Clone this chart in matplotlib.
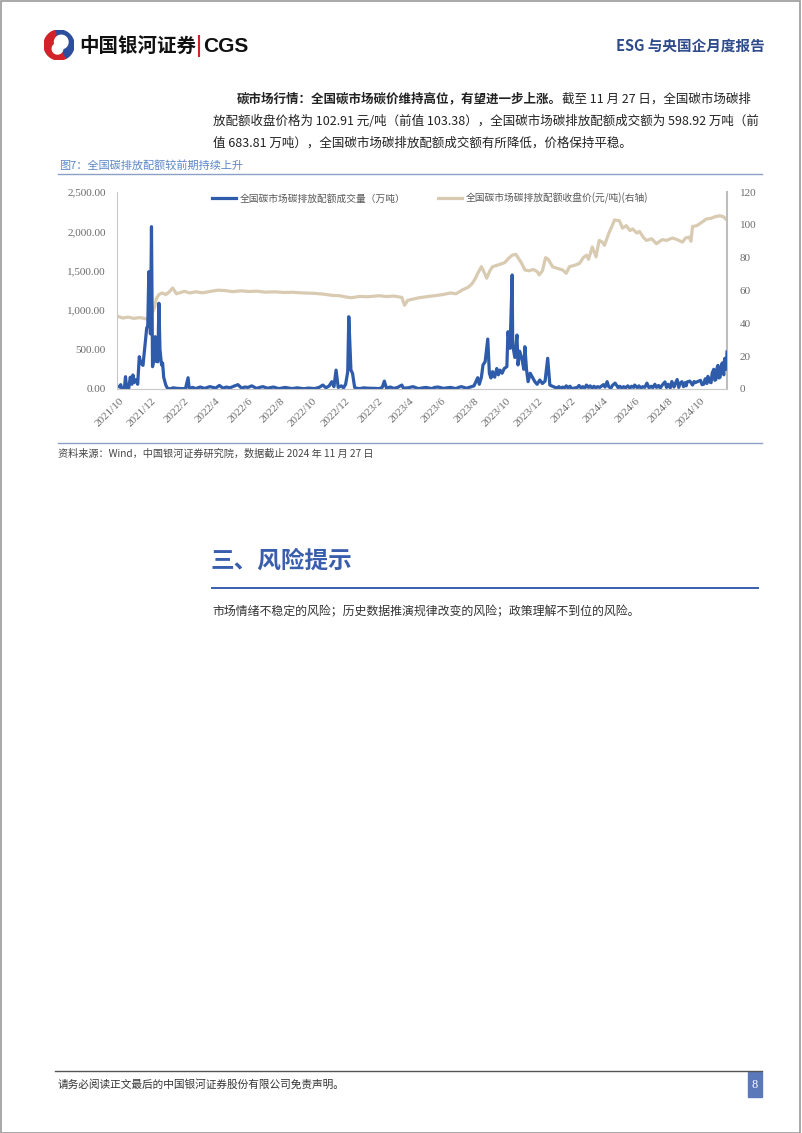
import matplotlib
matplotlib.use('Agg')
import matplotlib.pyplot as plt
import pandas as pd
from matplotlib.lines import Line2D
from matplotlib.patches import Rectangle, Wedge
from matplotlib.ticker import FuncFormatter

plt.rcParams['font.family'] = ['Noto Sans CJK SC', 'DejaVu Sans']

# 全国碳市场碳排放配额成交量（万吨），, by year
vol_2021_dates = [
    '2021-10-08', '2021-10-11', '2021-10-13', '2021-10-18', '2021-10-20', '2021-10-22',
    '2021-10-26', '2021-10-29', '2021-11-01', '2021-11-03', '2021-11-05', '2021-11-09',
    '2021-11-12', '2021-11-15', '2021-11-18', '2021-11-22', '2021-11-25', '2021-11-29',
    '2021-12-01', '2021-12-03', '2021-12-06', '2021-12-08', '2021-12-10', '2021-12-13',
    '2021-12-15', '2021-12-17', '2021-12-20', '2021-12-22', '2021-12-24', '2021-12-27',
    '2021-12-29', '2021-12-31',
]
vol_2021_values = [
    30, 55, 5, 10, 156, 20,
    5, 150, 60, 178, 80, 120,
    60, 410, 330, 300, 500, 774,
    800, 1489, 700, 2060, 283, 400,
    664, 350, 346, 1088, 500, 305,
    330, 150,
]
vol_2022_dates = [
    '2022-01-04', '2022-01-07', '2022-01-12', '2022-01-18', '2022-01-25', '2022-02-10',
    '2022-02-15', '2022-02-17', '2022-02-24', '2022-03-01', '2022-03-10', '2022-03-18',
    '2022-03-28', '2022-04-08', '2022-04-15', '2022-04-22', '2022-04-28', '2022-05-05',
    '2022-05-12', '2022-05-20', '2022-05-27', '2022-06-02', '2022-06-08', '2022-06-15',
    '2022-06-24', '2022-06-30', '2022-07-06', '2022-07-15', '2022-07-26', '2022-08-05',
    '2022-08-17', '2022-08-30', '2022-09-09', '2022-09-21', '2022-09-30', '2022-10-11',
    '2022-10-20', '2022-10-27', '2022-11-02', '2022-11-08', '2022-11-13', '2022-11-17',
    '2022-11-21', '2022-11-25', '2022-12-01', '2022-12-05', '2022-12-09', '2022-12-13',
    '2022-12-15', '2022-12-19', '2022-12-22', '2022-12-26', '2022-12-29',
]
vol_2022_values = [
    50, 10, 2, 15, 8, 3,
    143, 10, 20, 5, 25, 8,
    30, 12, 45, 10, 25, 15,
    35, 55, 10, 25, 20, 40,
    8, 20, 30, 10, 25, 5,
    20, 5, 15, 3, 12, 5,
    20, 50, 15, 40, 93, 30,
    240, 20, 40, 15, 60, 220,
    917, 240, 200, 20, 10,
]
vol_2023_dates = [
    '2023-01-05', '2023-01-12', '2023-01-20', '2023-02-03', '2023-02-10', '2023-02-16',
    '2023-02-20', '2023-02-24', '2023-03-03', '2023-03-10', '2023-03-17', '2023-03-25',
    '2023-03-28', '2023-04-06', '2023-04-15', '2023-04-25', '2023-05-04', '2023-05-10',
    '2023-05-20', '2023-05-26', '2023-06-01', '2023-06-12', '2023-06-18', '2023-06-25',
    '2023-07-05', '2023-07-10', '2023-07-15', '2023-07-25', '2023-08-01', '2023-08-08',
    '2023-08-15', '2023-08-18', '2023-08-22', '2023-08-25', '2023-08-29', '2023-09-03',
    '2023-09-06', '2023-09-09', '2023-09-12', '2023-09-16', '2023-09-20', '2023-09-23',
    '2023-09-26', '2023-09-30', '2023-10-04', '2023-10-09', '2023-10-11', '2023-10-15',
    '2023-10-19', '2023-10-20', '2023-10-24', '2023-10-28', '2023-10-30', '2023-11-02',
    '2023-11-06', '2023-11-10', '2023-11-12', '2023-11-15', '2023-11-18', '2023-11-22',
    '2023-11-27', '2023-12-01', '2023-12-05', '2023-12-10', '2023-12-15', '2023-12-20',
    '2023-12-25', '2023-12-29',
]
vol_2023_values = [
    5, 15, 10, 8, 5, 20,
    100, 10, 25, 8, 20, 50,
    10, 15, 30, 5, 15, 20,
    5, 20, 25, 8, 15, 20,
    5, 20, 30, 10, 25, 40,
    143, 60, 150, 305, 346, 634,
    200, 140, 220, 150, 260, 180,
    240, 200, 260, 283, 727, 516,
    1447, 558, 400, 685, 305, 480,
    393, 250, 537, 250, 93, 200,
    140, 90, 60, 114, 70, 100,
    390, 50,
]
vol_2024_dates = [
    '2024-01-08', '2024-01-11', '2024-01-15', '2024-01-18', '2024-01-22', '2024-01-25',
    '2024-01-29', '2024-02-01', '2024-02-05', '2024-02-08', '2024-02-19', '2024-02-22',
    '2024-02-26', '2024-02-29', '2024-03-04', '2024-03-07', '2024-03-11', '2024-03-14',
    '2024-03-18', '2024-03-21', '2024-03-25', '2024-03-28', '2024-04-01', '2024-04-08',
    '2024-04-11', '2024-04-15', '2024-04-18', '2024-04-22', '2024-04-25', '2024-04-30',
    '2024-05-06', '2024-05-09', '2024-05-13', '2024-05-16', '2024-05-20', '2024-05-24',
    '2024-05-28', '2024-05-31', '2024-06-04', '2024-06-06', '2024-06-11', '2024-06-14',
    '2024-06-18', '2024-06-21', '2024-06-25', '2024-06-29', '2024-07-03', '2024-07-07',
    '2024-07-10', '2024-07-14', '2024-07-17', '2024-07-21', '2024-07-24', '2024-07-28',
    '2024-08-02', '2024-08-05', '2024-08-08', '2024-08-12', '2024-08-15', '2024-08-19',
    '2024-08-21', '2024-08-25', '2024-08-28', '2024-08-30', '2024-09-03', '2024-09-06',
    '2024-09-09', '2024-09-11', '2024-09-13', '2024-09-18', '2024-09-23', '2024-09-26',
    '2024-09-28', '2024-10-08', '2024-10-11', '2024-10-14', '2024-10-17', '2024-10-20',
    '2024-10-22', '2024-10-25', '2024-10-28', '2024-10-30', '2024-11-02', '2024-11-04',
    '2024-11-06', '2024-11-08', '2024-11-10', '2024-11-12', '2024-11-14', '2024-11-16',
    '2024-11-18', '2024-11-20', '2024-11-21', '2024-11-22', '2024-11-23', '2024-11-25',
    '2024-11-26', '2024-11-27',
]
vol_2024_values = [
    20, 5, 30, 8, 25, 10,
    40, 15, 35, 5, 20, 45,
    10, 30, 12, 50, 20, 40,
    10, 35, 15, 30, 20, 55,
    25, 93, 30, 10, 45, 75,
    15, 35, 10, 30, 15, 40,
    10, 35, 20, 50, 15, 40,
    10, 30, 20, 75, 15, 35,
    15, 60, 20, 45, 10, 50,
    90, 20, 60, 15, 95, 25,
    60, 120, 20, 70, 93, 30,
    80, 40, 90, 100, 50, 95,
    80, 110, 55, 60, 130, 70,
    160, 90, 80, 200, 250, 110,
    120, 260, 300, 140, 150, 280,
    330, 200, 180, 350, 390, 250,
    300, 470,
]

# 全国碳市场碳排放配额收盘价（元/吨）
price_dates = [
    '2021-10-08', '2021-10-15', '2021-10-25', '2021-11-05', '2021-11-15', '2021-11-25',
    '2021-12-02', '2021-12-06', '2021-12-10', '2021-12-14', '2021-12-17', '2021-12-22',
    '2021-12-28', '2022-01-04', '2022-01-10', '2022-01-17', '2022-01-20', '2022-01-24',
    '2022-02-08', '2022-02-18', '2022-03-01', '2022-03-15', '2022-03-30', '2022-04-12',
    '2022-04-25', '2022-05-10', '2022-05-25', '2022-06-10', '2022-06-25', '2022-07-10',
    '2022-07-28', '2022-08-15', '2022-09-01', '2022-09-20', '2022-10-10', '2022-10-28',
    '2022-11-15', '2022-11-28', '2022-12-10', '2022-12-20', '2023-01-05', '2023-01-20',
    '2023-02-10', '2023-02-25', '2023-03-10', '2023-03-25', '2023-03-30', '2023-04-05',
    '2023-04-12', '2023-04-25', '2023-05-10', '2023-05-25', '2023-06-10', '2023-06-25',
    '2023-07-05', '2023-07-18', '2023-07-28', '2023-08-04', '2023-08-10', '2023-08-16',
    '2023-08-22', '2023-08-28', '2023-09-01', '2023-09-07', '2023-09-12', '2023-09-22',
    '2023-10-05', '2023-10-12', '2023-10-19', '2023-10-26', '2023-10-31', '2023-11-06',
    '2023-11-12', '2023-11-20', '2023-11-28', '2023-12-05', '2023-12-09', '2023-12-15',
    '2023-12-21', '2023-12-26', '2024-01-03', '2024-01-12', '2024-01-22', '2024-01-29',
    '2024-02-04', '2024-02-15', '2024-02-23', '2024-03-01', '2024-03-07', '2024-03-11',
    '2024-03-18', '2024-03-25', '2024-03-31', '2024-04-06', '2024-04-10', '2024-04-19',
    '2024-04-24', '2024-04-29', '2024-05-08', '2024-05-14', '2024-05-21', '2024-05-28',
    '2024-06-02', '2024-06-10', '2024-06-15', '2024-06-22', '2024-06-28', '2024-07-08',
    '2024-07-17', '2024-07-28', '2024-08-05', '2024-08-16', '2024-08-25', '2024-09-04',
    '2024-09-10', '2024-09-17', '2024-09-20', '2024-09-23', '2024-10-01', '2024-10-08',
    '2024-10-19', '2024-10-28', '2024-11-05', '2024-11-13', '2024-11-20', '2024-11-27',
]
price_values = [
    44.0, 43.2, 43.8, 43.0, 43.5, 43.0,
    42.2, 43.5, 47.0, 50.0, 55.0, 57.5,
    58.5, 57.5, 59.0, 61.5, 60.0, 58.0,
    59.5, 58.5, 59.2, 58.6, 59.5, 60.2,
    60.0, 59.3, 59.8, 59.4, 59.6, 59.0,
    59.2, 58.8, 58.9, 58.5, 58.3, 57.8,
    57.0, 56.8, 56.0, 55.6, 56.4, 56.2,
    56.8, 56.3, 56.6, 55.8, 51.0, 54.0,
    54.5, 55.5, 56.2, 56.8, 57.5, 58.5,
    58.0, 60.5, 62.0, 64.0, 67.0, 71.0,
    74.5, 70.5, 67.5, 72.0, 74.5, 75.5,
    77.0, 79.5, 81.5, 82.0, 79.5, 76.5,
    72.5, 72.0, 72.8, 71.5, 69.5, 72.0,
    80.0, 79.0, 74.5, 73.5, 72.5, 70.5,
    74.5, 75.5, 76.5, 80.0, 81.5, 79.0,
    86.5, 80.5, 90.5, 89.5, 87.5, 95.5,
    99.0, 103.0, 102.5, 98.0, 99.5, 96.5,
    97.5, 95.0, 96.0, 92.5, 90.5, 91.5,
    88.5, 91.0, 90.5, 92.0, 91.0, 89.5,
    92.0, 92.5, 90.0, 99.0, 99.5, 101.0,
    103.5, 104.0, 105.0, 105.5, 105.0, 102.9,
]

vol_dates = vol_2021_dates + vol_2022_dates + vol_2023_dates + vol_2024_dates
vol_values = vol_2021_values + vol_2022_values + vol_2023_values + vol_2024_values

left_ticks = [0, 500, 1000, 1500, 2000, 2500]
right_ticks = [0, 20, 40, 60, 80, 100, 120]
x_start, x_end = '2021-10-04', '2024-11-27'

W, H = 802, 1133


def fx(x):
    return x / W


def fy(y):
    return 1 - y / H


def hline(fig, x0, x1, y, color, lw):
    fig.add_artist(Line2D([fx(x0), fx(x1)], [fy(y), fy(y)], color=color, lw=lw))


fig = plt.figure(figsize=(W / 100, H / 100), dpi=100)

# page border
fig.add_artist(Rectangle((0.001, 0.0), 0.997, 0.999, fill=False, edgecolor='#9A9A9A', lw=1.2))

# ---- header ----
logo = fig.add_axes([fx(44), fy(60), 30 / W, 30 / H])
logo.set_xlim(-1, 1)
logo.set_ylim(-1, 1)
logo.set_aspect('equal')
logo.axis('off')
logo.add_patch(Wedge((0, 0), 1.0, 100, 300, color='#D2232A'))
logo.add_patch(Wedge((0, 0), 1.0, -60, 100, color='#2D4E9C'))
logo.add_patch(Wedge((0.15, 0.2), 0.45, 0, 360, color='white'))
logo.add_patch(Wedge((-0.1, -0.25), 0.35, 0, 360, color='white'))

fig.text(fx(79), fy(46), '中国银河证券', fontsize=14, fontweight='bold', color='#111111', va='center')
fig.add_artist(Line2D([fx(199), fx(199)], [fy(36), fy(56)], color='#D2232A', lw=1.5))
fig.text(fx(203), fy(46), 'CGS', fontsize=15, fontweight='bold', color='#111111', va='center',
         family=['Liberation Sans'])
fig.text(fx(765), fy(46), 'ESG 与央国企月度报告', fontsize=10.5, fontweight='bold', color='#2F4B8C',
         ha='right', va='center')

# ---- paragraph ----
renderer = fig.canvas.get_renderer()
para_color = '#222222'
fs_para = 9.0


def runs(x, y, parts):
    for txt, weight in parts:
        t = fig.text(fx(x), fy(y), txt, fontsize=fs_para, fontweight=weight, color=para_color, va='center')
        bb = t.get_window_extent(renderer)
        x += bb.width


runs(237, 99, [('碳市场行情：全国碳市场碳价维持高位，有望进一步上涨。', 'bold'),
               ('截至 11 月 27 日，全国碳市场碳排', 'normal')])
runs(213, 121, [('放配额收盘价格为 102.91 元/吨（前值 103.38），全国碳市场碳排放配额成交额为 598.92 万吨（前', 'normal')])
runs(213, 143, [('值 683.81 万吨），全国碳市场碳排放配额成交额有所降低，价格保持平稳。', 'normal')])

# ---- figure caption ----
fig.text(fx(59), fy(166), '图7：全国碳排放配额较前期持续上升', fontsize=8, color='#5B86C8', va='center')
hline(fig, 58, 762, 174, '#8C9FC6', 1.0)

# ---- chart ----
ax = fig.add_axes([fx(117), fy(389), 610 / W, 197 / H])
ax2 = ax.twinx()

ax2.plot(pd.to_datetime(price_dates), price_values, color='#D9CAB2', lw=2.3,
         label='全国碳市场碳排放配额收盘价(元/吨)(右轴)')
ax.plot(pd.to_datetime(vol_dates), vol_values, color='#2E5BAA', lw=2.3,
        label='全国碳市场碳排放配额成交量（万吨）')
ax.set_zorder(ax2.get_zorder() + 1)
ax.patch.set_visible(False)

ax.set_xlim(pd.Timestamp(x_start), pd.Timestamp(x_end))
ax.set_ylim(0, 2500)
ax2.set_ylim(0, 120)
ax.set_yticks(left_ticks)
ax2.set_yticks(right_ticks)
ax.yaxis.set_major_formatter(FuncFormatter(lambda v, p: f'{v:,.2f}'))
ax2.yaxis.set_major_formatter(FuncFormatter(lambda v, p: f'{v:.0f}'))

xt = pd.date_range('2021-10-08', periods=19, freq=pd.DateOffset(months=2))
ax.set_xticks(xt)
ax.set_xticklabels([f'{d.year}/{d.month}' for d in xt], rotation=45, ha='right',
                   rotation_mode='anchor')

for a in (ax, ax2):
    a.tick_params(length=0, labelsize=8, labelcolor='#6B6B6B')
    for s in a.spines.values():
        s.set_visible(False)
ax.tick_params(axis='y', pad=8)
ax2.tick_params(axis='y', pad=9)
ax.tick_params(axis='x', pad=5)
ax.spines['left'].set_visible(True)
ax.spines['bottom'].set_visible(True)
ax2.spines['right'].set_visible(True)
ax.spines['left'].set_color('#C8C8C8')
ax.spines['bottom'].set_color('#C8C8C8')
ax2.spines['right'].set_color('#BDBDBD')
ax2.spines['right'].set_linewidth(1.5)

for lbl in ax.get_xticklabels() + ax.get_yticklabels() + ax2.get_yticklabels():
    lbl.set_fontfamily(['Liberation Serif'])

h1, l1 = ax.get_legend_handles_labels()
h2, l2 = ax2.get_legend_handles_labels()
leg = ax.legend(h1 + h2, l1 + l2, loc='upper left', bbox_to_anchor=(0.142, 1.04), ncol=2,
                frameon=False, fontsize=7, handlelength=2.4, columnspacing=3.4, handletextpad=0.4)
for t in leg.get_texts():
    t.set_color('#595959')

# ---- source ----
hline(fig, 58, 762, 443, '#8C9FC6', 1.0)
fig.text(fx(58), fy(454), '资料来源：Wind，中国银河证券研究院，数据截止 2024 年 11 月 27 日', fontsize=7.3,
         color='#444444', va='center', style='italic')

# ---- section 3 ----
fig.text(fx(210), fy(561), '三、风险提示', fontsize=17, fontweight='bold', color='#3A5EAE', va='center')
hline(fig, 212, 758, 588, '#3A5EAE', 1.4)
fig.text(fx(212), fy(612), '市场情绪不稳定的风险；历史数据推演规律改变的风险；政策理解不到位的风险。',
         fontsize=8.6, color='#333333', va='center')

# ---- footer ----
hline(fig, 55, 762, 1071, '#555555', 1.0)
fig.text(fx(58), fy(1084), '请务必阅读正文最后的中国银河证券股份有限公司免责声明。', fontsize=7.7,
         color='#333333', va='center')
fig.add_artist(Rectangle((fx(748), fy(1097)), 14 / W, 25 / H, color='#5A78BA'))
fig.text(fx(755), fy(1084.5), '8', fontsize=9, color='white', ha='center', va='center',
         family=['Liberation Serif'])

fig.savefig('out.png', dpi=100)
